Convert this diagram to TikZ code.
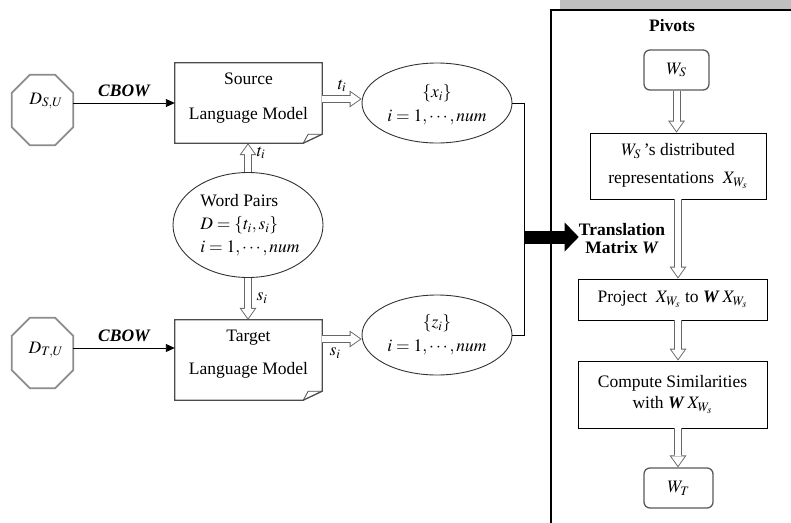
\documentclass[tikz,border=0pt]{standalone}
\usepackage{mathptmx}
\usepackage{fontspec}
\setmainfont{Liberation Serif}
\usetikzlibrary{arrows.meta,shapes.geometric}
\newcommand\octpath[1]{%
  \draw[octline] ([xshift=18pt]#1.north west) -- ([xshift=-18pt]#1.north east)
    -- ([yshift=-18pt]#1.north east) -- ([yshift=18pt]#1.south east)
    -- ([xshift=-18pt]#1.south east) -- ([xshift=18pt]#1.south west)
    -- ([yshift=18pt]#1.south west) -- ([yshift=-18pt]#1.north west) -- cycle;}
\newcommand\foldpath[1]{%
  \draw[lmline] (#1.north west) -- (#1.north east) -- ([yshift=9pt]#1.south east)
    -- ([xshift=-19pt]#1.south east) -- (#1.south west) -- cycle;
  \draw[lmline, line width=0.8pt] ([xshift=-19pt]#1.south east)
    .. controls ([xshift=-17pt,yshift=5pt]#1.south east) .. ([xshift=-14pt,yshift=9pt]#1.south east)
    -- ([yshift=9pt]#1.south east);}
\begin{document}
\begin{tikzpicture}[x=1pt,y=-1pt,
  every node/.style={font=\fontsize{17.5}{21}\selectfont, inner sep=0pt},
  octline/.style={draw=black!45, line width=1.8pt, line join=miter},
  lmline/.style={draw=black!70, line width=1.3pt},
  ell/.style={ellipse, draw=black!80, line width=0.9pt},
  rbox/.style={draw=black, line width=0.9pt},
  rrbox/.style={draw=black!65, line width=1.3pt, rounded corners=6pt},
  thin/.style={draw=black, line width=0.9pt},
  hollow/.style={draw=black!60, line width=8pt,
     -{Triangle[length=12pt, width=17pt, line width=0pt]},
     postaction={draw=white, line width=6pt, shorten >=1.6pt,
     -{Triangle[length=9.4pt, width=13.4pt, line width=0pt]}}},
  cbow/.style={thin, -{Triangle[length=9pt, width=8pt]}},
  bigarrow/.style={line width=13pt, -{Triangle[length=14pt, width=29pt, line width=0pt]}}
]
\useasboundingbox (0,0) rectangle (791,522);

% right panel
\fill[black!25] (560,0) rectangle (791,8.5);
\draw[line width=1.4pt] (551,523) -- (551,10) -- (792,10);
\node[font=\bfseries\fontsize{17.5}{21}\selectfont] (pv) at (672,26) {Pivots};

% octagons
\node[minimum width=61pt, minimum height=70pt] (os) at (42.5,110) {};
\octpath{os}
\node (osl) at (46,101) {$D_{S,U}$};
\node[minimum width=61pt, minimum height=70pt] (ot) at (42.5,353) {};
\octpath{ot}
\node (otl) at (46,350) {$D_{T,U}$};

% language model boxes
\node[minimum width=147pt, minimum height=80pt] (sb) at (248.5,103) {};
\foldpath{sb}
\node[align=center, font=\fontsize{17.5}{35}\selectfont] (sbt) at (248.5,98.5) {Source\\Language Model};
\node[minimum width=147pt, minimum height=80pt] (tb) at (248.5,360) {};
\foldpath{tb}
\node[align=center, font=\fontsize{17.5}{33}\selectfont] (tbt) at (248.5,354) {Target\\Language Model};

% CBOW arrows
\draw[cbow] (os.east |- sb.west) -- node[above=6pt, font=\bfseries\itshape\fontsize{17.5}{21}\selectfont] (c1) {CBOW} (sb.west);
\draw[cbow] ([yshift=5pt]ot.east) -- node[above=6pt, font=\bfseries\itshape\fontsize{17.5}{21}\selectfont] (c2) {CBOW} ([yshift=5pt]ot.east -| tb.west);

% ellipses
\node[ell, minimum width=150pt, minimum height=80pt] (xe) at (437,103) {};
\node[align=center, font=\fontsize{17.5}{24}\selectfont] (xet) at (437,105) {$\{x_i\}$\\$i=1,\cdots,num$};
\node[ell, minimum width=150pt, minimum height=80pt] (ze) at (437,335) {};
\node[align=center, font=\fontsize{17.5}{24}\selectfont] (zet) at (437,335) {$\{z_i\}$\\$i=1,\cdots,num$};
\node[ell, minimum width=150pt, minimum height=105pt] (wp) at (248,225) {};
\node[align=left, font=\fontsize{17.5}{23}\selectfont] (wpt) at (250,225) {Word Pairs\\$D=\{t_i,s_i\}$\\$i=1,\cdots,num$};

% hollow arrows on the left
\draw[hollow] ([yshift=4pt]sb.east) -- ([yshift=4pt]xe.west);
\node (lt1) at (342,86) {$t_i$};
\coordinate (zin) at ([yshift=-4pt]ze.west);
\draw[hollow] (zin -| tb.east) -- (zin);
\node (ls1) at (335,353) {$s_i$};
\draw[hollow] (wp.north) -- (wp.north |- sb.south);
\node (lt2) at (261,153) {$t_i$};
\draw[hollow] (wp.south) -- (wp.south |- tb.north);
\node (ls2) at (262,298) {$s_i$};

% joining line and big arrow
\draw[thin] (xe.east) -- ++(12,0) coordinate (j1) |- (ze.east);
\node[align=center, font=\bfseries\fontsize{17.5}{18}\selectfont] (tm) at (622,239) {Translation\\Matrix \textit{W}};
\coordinate (jn) at (523.5,237);
\draw[bigarrow] (jn) -- (jn -| tm.west);

% right column
\node[rrbox, minimum width=65pt, minimum height=40pt] (ws) at (676.5,70) {$W_S$};
\node[rbox, minimum width=176pt, minimum height=66pt, align=center, font=\fontsize{17.5}{28}\selectfont] (b2) at (678,166) {$W_S$\,'s distributed\\representations\ \ $X_{W_s}$};
\node[rbox, minimum width=189pt, minimum height=41pt] (b3) at (672.5,299.5) {Project\ \ $X_{W_s}$ to \textbf{\textit{W}}\,$X_{W_s}$};
\node[rbox, minimum width=189pt, minimum height=67pt, align=center, font=\fontsize{17.5}{21}\selectfont] (b4) at (672.5,394.5) {Compute Similarities\\with \textbf{\textit{W}}\,$X_{W_s}$};
\node[rrbox, minimum width=69pt, minimum height=40pt] (wt) at (678.5,488) {$W_T$};

\draw[hollow] (ws.south) -- (ws.south |- b2.north);
\draw[hollow] (b2.south) -- (b2.south |- b3.north);
\draw[hollow] (b2.south |- b3.south) -- (b2.south |- b4.north);
\draw[hollow] (b2.south |- b4.south) -- (b2.south |- wt.north);
\end{tikzpicture}
\end{document}
